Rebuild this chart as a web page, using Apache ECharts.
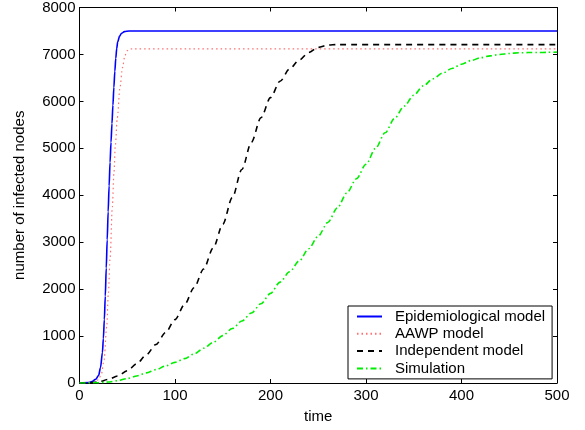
<!DOCTYPE html>
<html>
<head>
<meta charset="utf-8">
<script src="https://cdn.jsdelivr.net/npm/echarts@6/dist/echarts.min.js"></script>
<style>html,body{margin:0;padding:0;background:#fff}#c{width:585px;height:430px}</style>
</head>
<body>
<div id="c"></div>
<script>
const seriesNames = ['Epidemiological model', 'AAWP model', 'Independent model', 'Simulation'];
const xTicks = [0, 100, 200, 300, 400, 500];
const yTicks = [0, 1000, 2000, 3000, 4000, 5000, 6000, 7000, 8000];

const epidemiological = [[0,0],[10,10],[13,30],[17,80],[20,160],[22,330],[24,650],[25,950],[26,1350],[27,1850],[28,2450],[29,3050],[30,3650],[31,4200],[32,4700],[33,5130],[34,5530],[35,5920],[36,6300],[37,6640],[38,6920],[39,7130],[40,7270],[42,7390],[44,7450],[47,7485],[52,7500],[60,7500],[500,7500]];
const aawp = [[0,0],[15,15],[20,70],[23,200],[25.7,490],[28.5,1200],[30.2,1900],[32,2650],[34.4,3750],[36,4450],[37.5,5050],[39.6,5650],[42.4,6300],[45,6720],[47.6,6980],[50,7080],[52,7110],[55,7120],[500,7120]];
const independent = [[0,0],[10,5],[20,25],[30,75],[40,150],[50,260],[60,410],[70,600],[80,820],[90,1070],[100,1350],[110,1670],[120,2030],[130,2430],[140,2880],[150,3380],[160,3950],[170,4550],[180,5130],[190,5650],[200,6080],[210,6430],[220,6690],[230,6880],[240,7040],[250,7150],[260,7200],[270,7210],[500,7210]];
const simulation = [[0,0],[10,2],[20,8],[30,20],[40,50],[50,95],[60,150],[70,215],[80,285],[90,360],[100,440],[110,520],[120,620],[130,740],[140,865],[150,1010],[160,1160],[170,1320],[180,1490],[190,1690],[200,1910],[210,2150],[220,2370],[230,2600],[240,2860],[250,3130],[260,3420],[270,3730],[280,4050],[290,4350],[300,4660],[310,5000],[320,5330],[330,5640],[340,5900],[350,6130],[360,6330],[370,6480],[380,6600],[390,6700],[400,6790],[410,6870],[420,6930],[430,6970],[440,7000],[450,7020],[460,7035],[470,7040],[480,7040],[490,7045],[500,7050]];

const font = 'Liberation Sans, Arial, Helvetica, sans-serif';
const chart = echarts.init(document.getElementById('c'), null, {renderer: 'canvas'});
const gridPos = {left: 79.5, right: 28, top: 7, bottom: 47};
const axisLine = {show: true, onZero: false, lineStyle: {color: '#000', width: 1}};
const tick = {show: true, inside: true, length: 4, lineStyle: {color: '#000', width: 1}};
chart.setOption({
  animation: false,
  backgroundColor: '#fff',
  grid: gridPos,
  legend: {
    orient: 'vertical', left: 348, top: 306,
    padding: [3, 7, 3, 8],
    itemWidth: 25, itemHeight: 15, itemGap: 2.3,
    backgroundColor: '#fff', borderColor: '#000', borderWidth: 1,
    itemStyle: {opacity: 0},
    textStyle: {fontFamily: font, fontSize: 15, lineHeight: 15, color: '#000', padding: [0, 0, 0, 8]},
    data: seriesNames
  },
  xAxis: [{
    type: 'value', min: 0, max: 500, interval: 100, position: 'bottom',
    name: 'time', nameLocation: 'middle', nameGap: 26,
    nameTextStyle: {fontFamily: font, fontSize: 15, color: '#000'},
    axisLine: axisLine, axisTick: tick, splitLine: {show: false},
    axisLabel: {fontFamily: font, fontSize: 15, color: '#000', margin: 5,
      formatter: v => xTicks.includes(v) ? String(v) : ''}
  }, {
    type: 'value', min: 0, max: 500, interval: 100, position: 'top',
    axisLine: axisLine, axisTick: tick, axisLabel: {show: false}, splitLine: {show: false}
  }],
  yAxis: [{
    type: 'value', min: 0, max: 8000, interval: 1000, position: 'left',
    name: 'number of infected nodes', nameLocation: 'middle', nameGap: 52,
    nameTextStyle: {fontFamily: font, fontSize: 15, color: '#000'},
    axisLine: axisLine, axisTick: tick, splitLine: {show: false},
    axisLabel: {fontFamily: font, fontSize: 15, color: '#000', margin: 4,
      formatter: v => yTicks.includes(v) ? String(v) : ''}
  }, {
    type: 'value', min: 0, max: 8000, interval: 1000, position: 'right',
    axisLine: axisLine, axisTick: tick, axisLabel: {show: false}, splitLine: {show: false}
  }],
  series: [
    {name: seriesNames[0], type: 'line', data: epidemiological, showSymbol: false, symbol: 'none',
     smooth: 0.3, smoothMonotone: 'x', lineStyle: {color: '#0000ff', width: 1.6, type: 'solid'}, itemStyle: {color: '#0000ff'}},
    {name: seriesNames[1], type: 'line', data: aawp, showSymbol: false, symbol: 'none',
     smooth: 0.3, smoothMonotone: 'x', lineStyle: {color: '#ff7070', width: 1.2, type: [1.5, 3]}, itemStyle: {color: '#ff7070'}},
    {name: seriesNames[2], type: 'line', data: independent, showSymbol: false, symbol: 'none',
     smooth: 0.3, smoothMonotone: 'x', lineStyle: {color: '#000000', width: 1.6, type: [6, 5]}, itemStyle: {color: '#000'}},
    {name: seriesNames[3], type: 'line', data: simulation, showSymbol: false, symbol: 'none',
     smooth: 0.3, smoothMonotone: 'x', lineStyle: {color: '#00ee00', width: 1.6, type: [6, 3, 1.5, 3]}, itemStyle: {color: '#00ee00'}}
  ]
});
</script>
</body>
</html>
